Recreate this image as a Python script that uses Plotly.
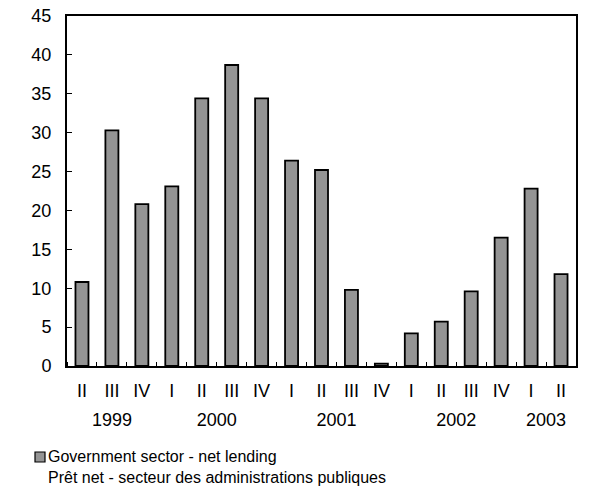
import plotly.graph_objects as go

years = ["1999", "2000", "2001", "2002", "2003"]
quarters_per_year = [3, 4, 4, 4, 2]
quarters = ["II", "III", "IV",
            "I", "II", "III", "IV",
            "I", "II", "III", "IV",
            "I", "II", "III", "IV",
            "I", "II"]
net_lending = [10.8, 30.3, 20.8,
               23.1, 34.4, 38.7, 34.4,
               26.4, 25.2, 9.8, 0.3,
               4.2, 5.7, 9.6, 16.5,
               22.8, 11.8]
legend_lines = ["Government sector - net lending",
                "Prêt net - secteur des administrations publiques"]
y_ticks = [0, 5, 10, 15, 20, 25, 30, 35, 40, 45]

FONT = "Liberation Sans, Arial, sans-serif"

idx = list(range(len(quarters)))
year_centers = []
start = 0
for n in quarters_per_year:
    year_centers.append(start + (n - 1) / 2)
    start += n
x_range = [-0.5, len(quarters) - 0.5]

W, H = 589, 494
L, R, T, B = 67, 13, 16, 128
pw, ph = W - L - R, H - T - B


def px_x(px):  # screen px -> paper x
    return (px - L) / pw


def px_y(py):  # screen px -> paper y
    return (H - B - py) / ph


fig = go.Figure()
fig.add_trace(go.Bar(
    x=idx,
    y=net_lending,
    name=legend_lines[0],
    marker=dict(color="#949494", line=dict(color="black", width=1.8)),
    showlegend=False,
))
fig.add_trace(go.Scatter(x=year_centers, y=[0] * len(year_centers), xaxis="x2",
                         mode="markers", marker=dict(opacity=0), showlegend=False,
                         hoverinfo="skip"))

fig.add_shape(type="rect", xref="paper", yref="paper",
              x0=px_x(35), x1=px_x(45), y0=px_y(462), y1=px_y(452),
              fillcolor="#949494", line=dict(color="black", width=1.2))
fig.add_annotation(xref="paper", yref="paper", x=px_x(46), y=px_y(446),
                   xanchor="left", yanchor="top", align="left", showarrow=False,
                   text="<br>".join(legend_lines),
                   font=dict(family=FONT, size=16, color="black"))

fig.update_layout(
    width=W, height=H,
    margin=dict(l=L, r=R, t=T, b=B, autoexpand=False),
    paper_bgcolor="white", plot_bgcolor="white",
    font=dict(family=FONT, size=18, color="black"),
    bargap=0.565,
    showlegend=False,
    xaxis=dict(
        range=x_range,
        tickmode="array", tickvals=idx, ticktext=quarters,
        showline=True, linecolor="black", linewidth=2, mirror=True,
        ticks="",
        minor=dict(tickmode="linear", tick0=0.5, dtick=1, ticks="inside",
                   ticklen=4, tickcolor="black", tickwidth=1, showgrid=False),
        showgrid=False, zeroline=False,
        ticklabelstandoff=7,
        tickfont=dict(size=18),
    ),
    xaxis2=dict(
        overlaying="x", side="bottom", anchor="y",
        range=x_range,
        tickmode="array", tickvals=year_centers, ticktext=years,
        showline=False, ticks="", showgrid=False, zeroline=False,
        ticklabelstandoff=41,
        tickfont=dict(size=18),
    ),
    yaxis=dict(
        range=[0, 45],
        tickvals=y_ticks,
        showline=True, linecolor="black", linewidth=2, mirror=True,
        ticks="inside", ticklen=5, tickcolor="black", tickwidth=1,
        showgrid=False, zeroline=False,
        ticklabelstandoff=10,
        tickfont=dict(size=18),
    ),
)

fig.write_html("out.html", config={"displayModeBar": False},
               post_script="document.body.style.margin='0';")
